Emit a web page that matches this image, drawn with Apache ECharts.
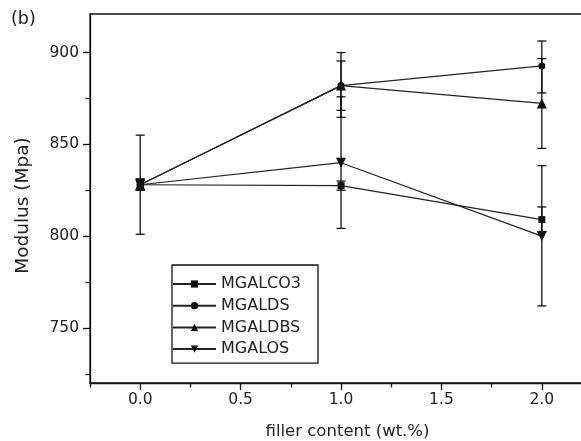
<!DOCTYPE html>
<html>
<head>
<meta charset="utf-8">
<script src="https://cdn.jsdelivr.net/npm/echarts@6/dist/echarts.min.js"></script>
<style>
  html, body { margin: 0; padding: 0; background: #fff; }
  #chart { width: 581px; height: 441px; }
</style>
</head>
<body>
<div id="chart"></div>
<script>
// filler content (wt.%) on x, modulus (Mpa) on y
const fillerContent = [0, 1, 2];
const seriesNames = ['MGALCO3', 'MGALDS', 'MGALDBS', 'MGALOS'];

const modCO3 = [828, 827.5, 809];
const modDS = [828, 882, 892.7];
const modDBS = [828, 882, 872.3];
const modOS = [828, 840, 800];

// error bar ends
const lowCO3 = [801, 825, 802.5];
const highCO3 = [855, 830, 815.9];
const lowDS = [825, 864.7, 878];
const highDS = [831, 900, 906.3];
const lowDBS = [825, 868.5, 847.8];
const highDBS = [831, 895.4, 896.7];
const lowOS = [825, 804.2, 762];
const highOS = [831, 875.9, 838.4];

// axis ticks
const xTicks = [0, 0.5, 1, 1.5, 2];
const xMinorTicks = [-0.25, 0.25, 0.75, 1.25, 1.75];
const yTicks = [750, 800, 850, 900];
const yMinorTicks = [725, 775, 825, 875];

const FONT = 'DejaVu Sans';
const INK = '#111';

const seriesDefs = [
  { name: seriesNames[0], values: modCO3, low: lowCO3, high: highCO3, symbol: 'rect', size: 7, rotate: 0 },
  { name: seriesNames[1], values: modDS, low: lowDS, high: highDS, symbol: 'circle', size: 7, rotate: 0 },
  { name: seriesNames[2], values: modDBS, low: lowDBS, high: highDBS, symbol: 'triangle', size: 10, rotate: 0 },
  { name: seriesNames[3], values: modOS, low: lowOS, high: highOS, symbol: 'triangle', size: 10, rotate: 180 },
];

function errorBarItem(params, api) {
  const x = api.value(0);
  const top = api.coord([x, api.value(2)]);
  const bottom = api.coord([x, api.value(1)]);
  const w = 4.5;
  const style = { stroke: INK, lineWidth: 1.3 };
  return {
    type: 'group',
    children: [
      { type: 'line', shape: { x1: top[0], y1: top[1], x2: bottom[0], y2: bottom[1] }, style: style },
      { type: 'line', shape: { x1: top[0] - w, y1: top[1], x2: top[0] + w, y2: top[1] }, style: style },
      { type: 'line', shape: { x1: bottom[0] - w, y1: bottom[1], x2: bottom[0] + w, y2: bottom[1] }, style: style },
    ],
  };
}

const series = [];
seriesDefs.forEach(def => {
  series.push({
    type: 'custom',
    name: def.name + ' err',
    renderItem: errorBarItem,
    encode: { x: 0, y: [1, 2] },
    data: fillerContent.map((x, i) => [x, def.low[i], def.high[i]]),
    z: 1,
    silent: true,
  });
});
seriesDefs.forEach(def => {
  series.push({
    type: 'line',
    name: def.name,
    data: fillerContent.map((x, i) => [x, def.values[i]]),
    symbol: def.symbol,
    symbolSize: def.size,
    symbolRotate: def.rotate,
    showAllSymbol: true,
    lineStyle: { color: '#222', width: 1.2 },
    itemStyle: { color: INK },
    z: 3,
  });
});

const chart = echarts.init(document.getElementById('chart'));
chart.setOption({
  animation: false,
  backgroundColor: '#fff',
  title: {
    text: '(b)',
    left: 11,
    top: 10,
    padding: 0,
    textStyle: { fontFamily: FONT, fontSize: 17.5, fontWeight: 'normal', color: '#222' },
  },
  legend: {
    data: seriesNames,
    orient: 'vertical',
    left: 172,
    top: 265,
    padding: [11, 17, 6, 0],
    itemWidth: 43,
    itemHeight: 9,
    itemGap: 5.7,
    borderColor: INK,
    borderWidth: 1.3,
    textStyle: { fontFamily: FONT, fontSize: 16, color: '#222', lineHeight: 16 },
  },
  grid: {
    left: 90,
    top: 14,
    width: 492,
    height: 369,
    outerBoundsMode: 'none',
    show: true,
    borderColor: INK,
    borderWidth: 1.3,
  },
  xAxis: [{
    type: 'value',
    position: 'bottom',
    min: -0.25,
    max: 2.2,
    name: 'filler content (wt.%)',
    nameLocation: 'middle',
    nameGap: 40,
    nameTextStyle: { fontFamily: FONT, fontSize: 16.5, color: '#222', padding: [0, 0, 0, 23] },
    axisLine: { onZero: false, lineStyle: { color: INK, width: 1.3 } },
    axisTick: { length: 7, customValues: xTicks, lineStyle: { color: INK, width: 1.3 } },
    axisLabel: {
      fontFamily: FONT, fontSize: 15.5, color: '#222', margin: 9,
      customValues: xTicks,
      formatter: v => v.toFixed(1),
    },
    splitLine: { show: false },
  }, {
    // minor ticks
    type: 'value',
    position: 'bottom',
    min: -0.25,
    max: 2.2,
    axisLine: { show: false, onZero: false },
    axisTick: { length: 4.5, customValues: xMinorTicks, lineStyle: { color: INK, width: 1.3 } },
    axisLabel: { show: false },
    splitLine: { show: false },
  }],
  yAxis: [{
    type: 'value',
    position: 'left',
    min: 720,
    max: 921,
    name: 'Modulus (Mpa)',
    nameLocation: 'middle',
    nameGap: 57,
    nameTextStyle: { fontFamily: FONT, fontSize: 18.5, color: '#222', padding: [0, 14, 0, 0] },
    axisLine: { onZero: false, lineStyle: { color: INK, width: 1.3 } },
    axisTick: { length: 7, customValues: yTicks, lineStyle: { color: INK, width: 1.3 } },
    axisLabel: {
      fontFamily: FONT, fontSize: 15.5, color: '#222', margin: 11,
      customValues: yTicks,
    },
    splitLine: { show: false },
  }, {
    // minor ticks
    type: 'value',
    position: 'left',
    min: 720,
    max: 921,
    axisLine: { show: false, onZero: false },
    axisTick: { length: 4.5, customValues: yMinorTicks, lineStyle: { color: INK, width: 1.3 } },
    axisLabel: { show: false },
    splitLine: { show: false },
  }],
  series: series,
});
</script>
</body>
</html>
